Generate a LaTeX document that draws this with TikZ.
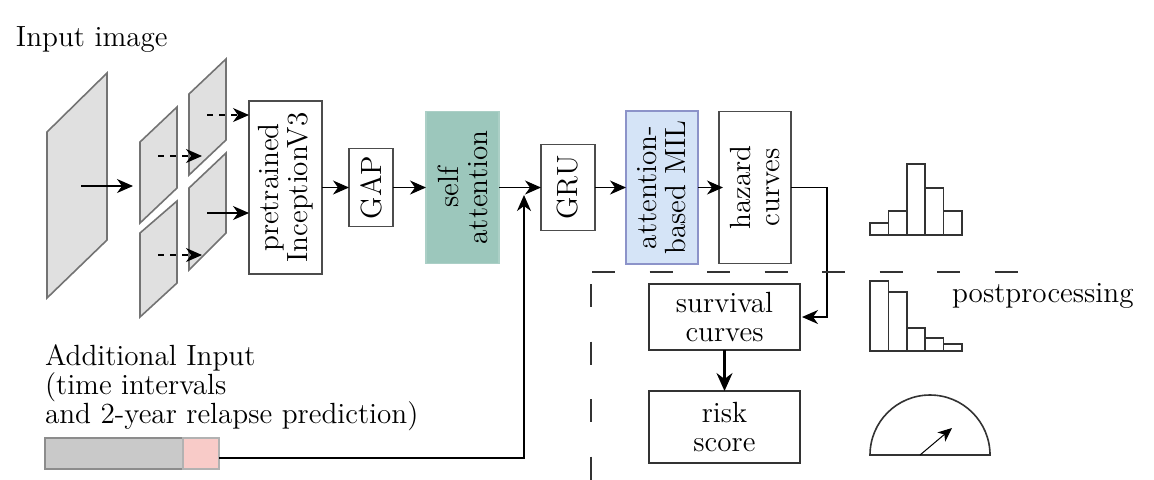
\documentclass[tikz,border=0pt]{standalone}
\usepackage{xcolor}
\usepackage{tikz}
\usetikzlibrary{arrows.meta,positioning}
\definecolor{sheetgray}{HTML}{E0E0E0}
\definecolor{tealfill}{HTML}{9CC7BC}
\definecolor{bluefill}{HTML}{D5E4F7}
\definecolor{pinkfill}{HTML}{F8CBC8}
\setlength{\lineskiplimit}{-10pt}
\setlength{\normallineskiplimit}{-10pt}

\begin{document}
\begin{tikzpicture}[
  x=0.5pt, y=-0.5pt,
  every node/.style={font=\fontsize{14.6}{14.5}\selectfont, outer sep=0pt, inner sep=0pt},
  tallbox/.style={draw=black!70, line width=0.8pt, fill=white, rotate=90, anchor=north, align=center},
  widebox/.style={draw=black!80, line width=0.7pt, fill=white, align=center, minimum width=75.5pt},
  sheet/.style={draw=black!55, line width=0.8pt, fill=sheetgray},
  hist/.style={draw=black!80, line width=0.8pt},
  sep/.style={black!80, line width=0.6pt, dash pattern=on 11.5pt off 17.25pt},
  arrow/.style={-{Stealth[length=8pt,width=7pt,inset=2.5pt]}, line width=0.6pt},
  thickarrow/.style={-{Stealth[length=9pt,width=8pt,inset=3pt]}, line width=1.1pt}
]
\useasboundingbox (0,0) rectangle (1154,479);

% image and patches
\draw[sheet] (47,132) -- (107,73) -- (107,240) -- (47,298) -- cycle;
\draw[sheet] (140,142) -- (177,107) -- (177,188) -- (140,223) -- cycle;
\draw[sheet] (140,233) -- (177,201) -- (177,283) -- (140,317) -- cycle;
\draw[sheet] (189,94) -- (226,59) -- (226,140) -- (189,175) -- cycle;
\draw[sheet] (189,188) -- (226,153) -- (226,233) -- (189,270) -- cycle;

\node[anchor=west] (inputlabel) at (16,40) {Input image};
\node[anchor=north west, align=left] (extralabel) at (45,345) {Additional Input\\(time intervals\\and 2-year relapse prediction)};

% model
\node[rotate=90, draw=black!70, line width=0.8pt, fill=white, align=center, minimum width=86.5pt, minimum height=36.5pt] (inception) at (285.5,187.5) {pretrained\\InceptionV3};
\node[right=13.5pt of inception.south, tallbox, minimum width=39pt, minimum height=22pt] (gap) {GAP};
\node[right=16.5pt of gap.south, tallbox, draw=tealfill!85!white, fill=tealfill, minimum width=76pt, minimum height=36.5pt] (selfatt) {self\\attention};
\node[right=21pt of selfatt.south, tallbox, minimum width=43pt, minimum height=27pt] (gru) {GRU};
\node[right=15.5pt of gru.south, tallbox, draw=bluefill!70!blue!60!gray, fill=bluefill, minimum width=76.5pt, minimum height=36pt] (mil) {attention-\\based MIL};
\node[right=10.5pt of mil.south, tallbox, minimum width=76pt, minimum height=36pt] (hazard) {hazard\\curves};

% postprocessing
\node[widebox, minimum height=33pt] (survival) at (724.5,317) {survival\\curves};
\node[widebox, below=20.5pt of survival, minimum height=36pt] (risk) {risk\\score};
\node[anchor=west] (postlabel) at (952,296) {postprocessing};

% additional input
\node[draw=black!45, line width=0.8pt, fill=black!21, minimum width=69pt, minimum height=15.5pt] (timebar) at (114,453.5) {};
\node[right=0pt of timebar, draw=black!30, line width=0.8pt, fill=pinkfill, minimum width=18pt, minimum height=15.5pt] (relapse) {};

\coordinate (imgout) at (81,186);
\coordinate (imgin) at (133,186);
\coordinate (patchA) at (207,115);
\coordinate (patchB) at (158,156);
\coordinate (patchC) at (207,213);
\coordinate (patchD) at (158,255);
\coordinate (patchBend) at (202,156);
\coordinate (patchDend) at (202,255);
\coordinate (merge) at (524,195);
\coordinate (hazardbend) at (827,187.5);

\draw[arrow] (imgout) -- (imgin);
\draw[arrow, dashed] (patchA) -- (patchA -| inception.north);
\draw[arrow, dashed] (patchB) -- (patchBend);
\draw[arrow] (patchC) -- (patchC -| inception.north);
\draw[arrow, dashed] (patchD) -- (patchDend);

\draw[arrow] (inception.south) -- (gap.north);
\draw[arrow] (gap.south) -- (selfatt.north);
\draw[arrow] (selfatt.south) -- (gru.north);
\draw[arrow] (gru.south) -- (mil.north);
\draw[arrow] (mil.south) -- ([xshift=2pt]hazard.north);
\draw[arrow] (hazard.south) -- (hazardbend) |- ([xshift=1pt]survival.east);
\draw[thickarrow] (survival) -- (risk);
\draw[arrow] ([yshift=-2.25pt]relapse.east) -| (merge);

% separator
\draw[sep] (592,272) -- (1018,272);
\draw[sep] (591,284) -- (591,480);

% histograms and gauge
\draw[hist] (870,235) rectangle (888.5,223) (888.5,235) rectangle (907,211) (907,235) rectangle (925,164) (925,235) rectangle (943.5,188) (943.5,235) rectangle (962,211);
\draw[hist] (870,351) rectangle (888.5,281) (888.5,351) rectangle (907,292) (907,351) rectangle (925,328) (925,351) rectangle (943.5,338) (943.5,351) rectangle (962,344);
\draw[hist] (870,455) arc[start angle=180, end angle=360, radius=60] -- cycle;
\draw[-{Stealth[length=7pt,width=6pt,inset=2pt]}, line width=0.5pt] (920,455) -- (952,428);
\end{tikzpicture}
\end{document}
